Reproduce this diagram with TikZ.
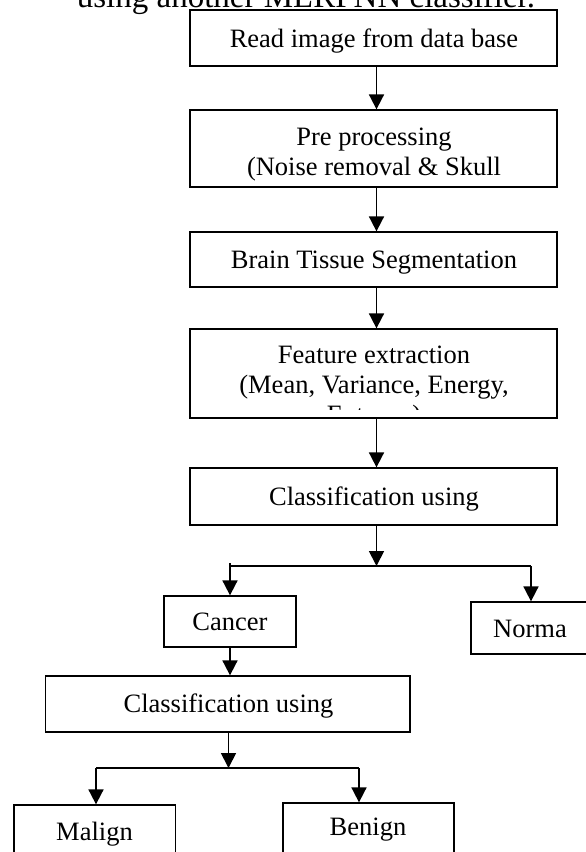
\documentclass[tikz,border=0pt]{standalone}
\usepackage{fontspec}
\setmainfont{Liberation Serif}
\usetikzlibrary{arrows.meta,calc}
\begin{document}
\begin{tikzpicture}[x=1pt,y=-1pt,
  box/.style={draw, line width=1.3pt, inner sep=0pt, rectangle},
  txt/.style={anchor=base, inner sep=0pt, font=\fontsize{26.5}{30}\selectfont},
  arr/.style={line width=1.8pt, -{Triangle[width=15pt,length=15pt]}},
  link/.style={line width=1.8pt}]
\clip (0,0) rectangle (586,852);
\fill[white] (0,0) rectangle (586,852);

\node[anchor=base, inner sep=0pt, font=\fontsize{33}{36}\selectfont] (title) at (306,7) {using another MLRPNN classifier.};

% boxes
\node[box, minimum width=367pt, minimum height=56pt] (b1) at (373.5,38) {};
\node[box, minimum width=367pt, minimum height=77pt] (b2) at (373.5,148.5) {};
\node[box, minimum width=367pt, minimum height=55pt] (b3) at (373.5,259.5) {};
\node[box, minimum width=367pt, minimum height=89pt] (b4) at (373.5,373.5) {};
\node[box, minimum width=367pt, minimum height=57pt] (b5) at (373.5,496.5) {};
\node[box, minimum width=132pt, minimum height=51pt] (cancer) at (230,621.5) {};
\node[box, minimum width=119pt, minimum height=52pt] (norma) at (530.5,628) {};
\node[box, minimum width=364.4pt, minimum height=56pt] (b6) at (227.8,704) {};
\node[box, minimum width=161.6pt, minimum height=75pt] (malign) at (94.8,842.5) {};
\node[box, minimum width=171pt, minimum height=77pt] (benign) at (368.5,841.5) {};

% texts
\node[txt] (t1) at (374,47) {Read image from data base};
\node[txt] (t2a) at (374,145) {Pre processing};
\node[txt] (t2b) at (374,175) {(Noise removal \& Skull};
\node[txt] (t3) at (374,268) {Brain Tissue Segmentation};
\node[txt] (t4a) at (374,363) {Feature extraction};
\node[txt] (t4b) at (374,393) {(Mean, Variance, Energy,};
\begin{scope}
\clip (190,329) rectangle (557,409);
\node[txt] (t4c) at (374,423) {Entropy)};
\end{scope}
\node[txt] (t5) at (374,505) {Classification using};
\node[txt] (tc) at (230,630) {Cancer};
\node[txt] (tn) at (530,637) {Norma};
\node[txt] (t6) at (228.5,712.5) {Classification using};
\node[txt] (tm) at (94.5,840) {Malign};
\node[txt] (tb) at (368,835) {Benign};

% connectors
\draw[arr] ([xshift=3pt]b1.south) -- ([xshift=3pt]b2.north);
\draw[arr] ([xshift=3pt]b2.south) -- ([xshift=3pt]b3.north);
\draw[arr] ([xshift=3pt]b3.south) -- ([xshift=3pt]b4.north);
\draw[arr] ([xshift=3pt]b4.south) -- ([xshift=3pt]b5.north);

\coordinate (j1) at (376.5,566);
\coordinate (j1l) at (230,566);
\coordinate (j1r) at (531,566);
\draw[arr] ([xshift=3pt]b5.south) -- (j1);
\draw[link] ([yshift=3pt]j1l) -- (j1l) -- (j1r);
\draw[arr] (j1l) -- (j1l |- cancer.north);
\draw[arr] (j1r) -- (j1r |- norma.north);

\draw[arr] (cancer.south) -- (cancer.south |- b6.north);

\coordinate (j2) at (228.5,768);
\coordinate (j2l) at (96,768);
\coordinate (j2r) at (359,768);
\draw[arr] (j2 |- b6.south) -- (j2);
\draw[link] (j2l) -- (j2r);
\draw[arr] (j2l) -- (j2l |- malign.north);
\draw[arr] (j2r) -- (j2r |- benign.north);
\end{tikzpicture}
\end{document}
